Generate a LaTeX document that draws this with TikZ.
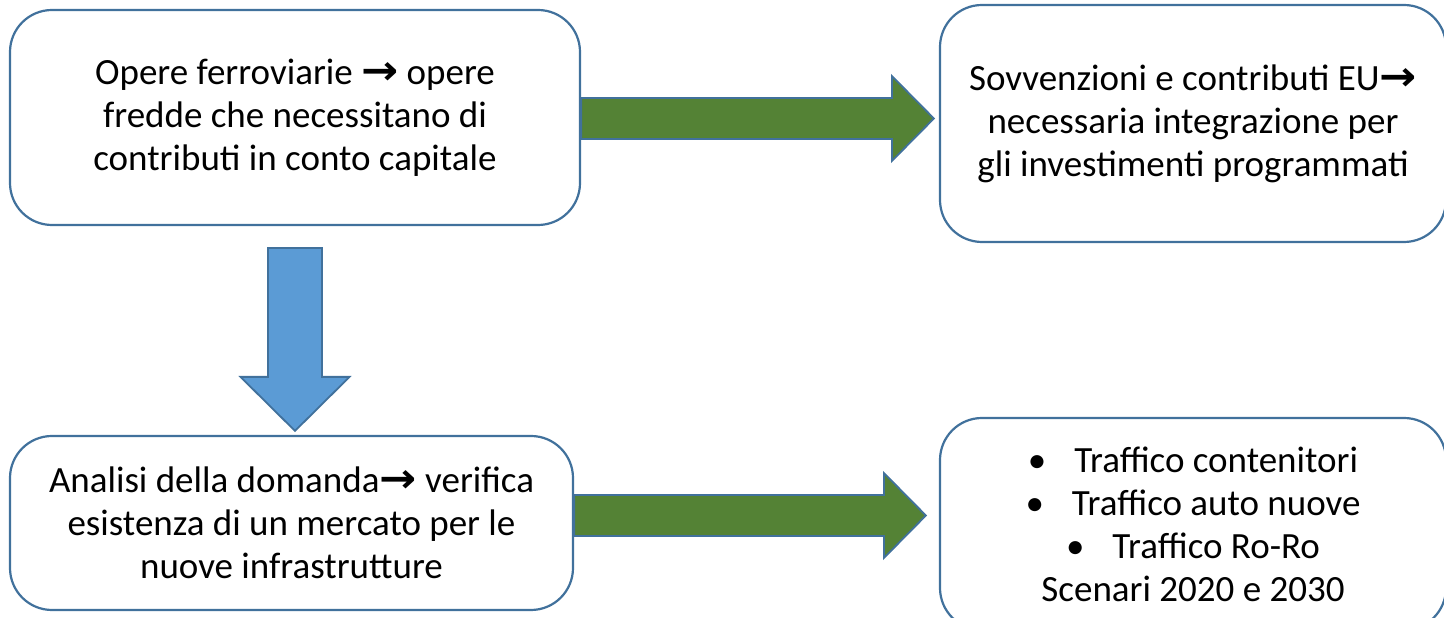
\documentclass[tikz,border=0pt]{standalone}
\usepackage{fontspec}
\setmainfont{Carlito}
\newfontfamily\arrowfont{DejaVu Sans}
\usetikzlibrary{calc}
\usetikzlibrary{positioning}

\definecolor{bordo}{HTML}{41719C}
\definecolor{verde}{HTML}{548235}
\definecolor{azzurro}{HTML}{5B9BD5}
\newcommand{\freccia}{{\arrowfont\bfseries\scalebox{1.2}[1.1]{→}}}

\tikzset{
  casella/.style={draw=bordo, line width=2.2pt, rounded corners=42pt, fill=white,
    align=center, inner sep=0pt, font=\fontsize{37}{43}\selectfont},
  frecciaverde/.style={draw=bordo, line width=1.8pt, fill=verde},
  frecciablu/.style={draw=bordo, line width=1.8pt, fill=azzurro}
}

\begin{document}
\begin{tikzpicture}[x=1pt, y=1pt]
    \useasboundingbox (0,0) rectangle (1444,618);
    % caselle
    \node[casella, minimum width=570pt, minimum height=215pt] (opere) at (295,500.5)
        {Opere ferroviarie \freccia{} opere\\ fredde che necessitano di\\ contributi in conto capitale};
    \node[casella, minimum width=506pt, minimum height=237pt] (sovv) at (1193,494.5)
        {Sovvenzioni e contributi EU\freccia\\ necessaria integrazione per\\ gli investimenti programmati};
    \node[casella, minimum width=563pt, minimum height=174pt] (analisi) at (291.5,95)
        {Analisi della domanda\freccia{} verifica\\ esistenza di un mercato per le\\ nuove infrastrutture};
    \node[casella, minimum width=506pt, minimum height=212pt] (traffico) at (1193,94)
        {•\hspace{28pt}Traffico contenitori\\ •\hspace{28pt}Traffico auto nuove\\ •\hspace{28pt}Traffico Ro-Ro\\ Scenari 2020 e 2030};
    % frecce verdi
    \coordinate (g1) at ($(opere.east)+(0,-1)$);
    \coordinate (t1) at ($(sovv.west |- g1)+(-5,0)$);
    \draw[frecciaverde] ($(g1)+(0,20.5)$) -- ($(t1)+(-42,20.5)$) -- ($(t1)+(-42,42.5)$) -- (t1)
        -- ($(t1)+(-42,-42.5)$) -- ($(t1)+(-42,-20.5)$) -- ($(g1)+(0,-20.5)$) -- cycle;
    \coordinate (g2) at ($(analisi.east)+(0,7.5)$);
    \coordinate (t2) at ($(traffico.west |- g2)+(-13,0)$);
    \draw[frecciaverde] ($(g2)+(0,20.5)$) -- ($(t2)+(-42,20.5)$) -- ($(t2)+(-42,42.5)$) -- (t2)
        -- ($(t2)+(-42,-42.5)$) -- ($(t2)+(-42,-20.5)$) -- ($(g2)+(0,-20.5)$) -- cycle;
    % freccia blu
    \coordinate (b1) at ($(opere.south)+(0,-22)$);
    \coordinate (b2) at ($(analisi.north -| b1)+(0,4)$);
    \draw[frecciablu] ($(b1)+(-27,0)$) -- ($(b2)+(-27,54)$) -- ($(b2)+(-54.5,54)$) -- (b2)
        -- ($(b2)+(54.5,54)$) -- ($(b2)+(27,54)$) -- ($(b1)+(27,0)$) -- cycle;
\end{tikzpicture}
\end{document}
